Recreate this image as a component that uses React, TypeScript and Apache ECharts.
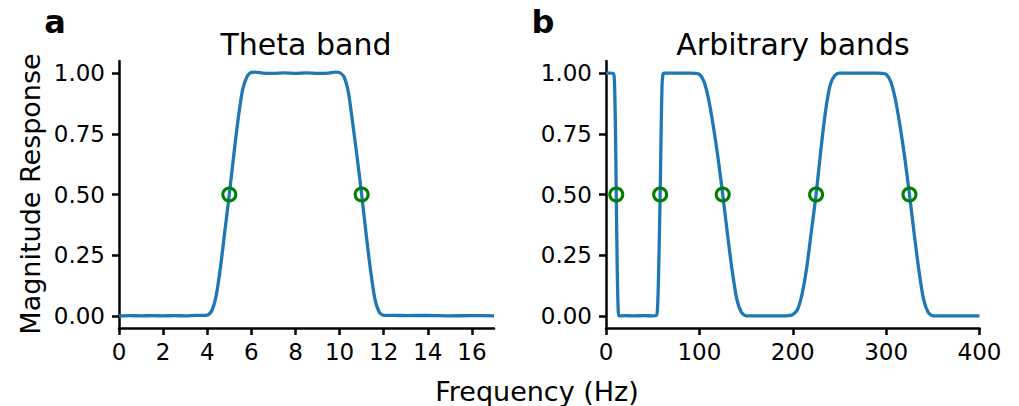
import React, { useEffect, useRef } from "react";
import * as echarts from "echarts";

// ---- data ----
const thetaResponse: [number, number][] = [
  [0, 0], [0.5, 0.001], [1, 0], [1.5, 0.001], [2, 0], [2.5, 0.001], [3, 0], [3.5, 0.002], [3.8, 0.002], [4, 0.003],
  [4.2, 0.02], [4.4, 0.08], [4.6, 0.2], [4.8, 0.35], [5, 0.5], [5.2, 0.66], [5.4, 0.81], [5.6, 0.93], [5.8, 0.985],
  [6, 1.003], [6.2, 1.004], [6.5, 1.0], [7, 0.999], [7.5, 1.001], [8, 0.999], [8.5, 1.001], [9, 0.999], [9.5, 1.0],
  [9.8, 1.004], [10, 1.002], [10.2, 0.985], [10.4, 0.92], [10.6, 0.79], [10.8, 0.65], [11, 0.5], [11.2, 0.34],
  [11.4, 0.19], [11.6, 0.07], [11.8, 0.015], [12, 0.002], [12.5, 0.002], [13, 0.001], [14, 0.002], [15, 0], [16, 0.001], [17, 0],
];
const thetaHalfPower: [number, number][] = [[5, 0.5], [11, 0.5]];

const arbitraryResponse: [number, number][] = [
  [0, 1], [4, 1], [8, 0.998], [9, 0.97], [10, 0.8], [11, 0.5], [12, 0.2], [13, 0.03], [14, 0],
  [20, 0.001], [30, 0], [40, 0.001], [50, 0], [54, 0.002], [55, 0.02], [56, 0.12], [57, 0.3], [58, 0.5],
  [59, 0.75], [60, 0.95], [61, 0.995], [62, 1], [70, 1], [80, 1], [90, 1], [95, 0.999], [100, 0.995],
  [105, 0.965], [110, 0.89], [115, 0.78], [120, 0.65], [125, 0.5], [130, 0.34], [135, 0.19], [140, 0.07],
  [145, 0.015], [150, 0], [160, 0], [170, 0], [180, 0], [190, 0], [195, 0.001], [200, 0.005], [205, 0.025],
  [210, 0.09], [215, 0.2], [220, 0.35], [225, 0.5], [230, 0.68], [235, 0.84], [240, 0.95], [245, 0.99],
  [250, 1], [260, 1], [270, 1], [280, 1], [290, 1], [295, 0.999], [300, 0.995], [305, 0.965], [310, 0.89],
  [315, 0.78], [320, 0.65], [325, 0.5], [330, 0.34], [335, 0.19], [340, 0.07], [345, 0.015], [350, 0],
  [360, 0], [380, 0], [400, 0],
];
const arbitraryHalfPower: [number, number][] = [[11, 0.5], [58, 0.5], [125, 0.5], [225, 0.5], [325, 0.5]];

const yTicks = [0, 0.25, 0.5, 0.75, 1.0];
const thetaXTicks = [0, 2, 4, 6, 8, 10, 12, 14, 16];
const arbitraryXTicks = [0, 100, 200, 300, 400];

const panelTitles = ["Theta band", "Arbitrary bands"];
const panelLetters = ["a", "b"];
const xAxisName = "Frequency (Hz)";
const yAxisName = "Magnitude Response";

const FONT = "DejaVu Sans";
const LINE_COLOR = "#1f77b4";
const MARKER_COLOR = "#008000";

export default function App() {
  const ref = useRef<HTMLDivElement>(null);

  useEffect(() => {
    if (!ref.current) return;
    const chart = echarts.init(ref.current, undefined, { renderer: "svg" });

    const axisLine = { show: true, onZero: false, lineStyle: { color: "#000", width: 2.5 } };
    const axisTickBase = { show: true, inside: false, length: 7, lineStyle: { color: "#000", width: 2.5 } };
    const labelBase = { color: "#000", fontSize: 23, fontFamily: FONT };

    const yAxisCommon = (gridIndex: number) => ({
      type: "value",
      gridIndex,
      min: -0.05,
      max: 1.05,
      axisLine,
      axisTick: { ...axisTickBase, customValues: yTicks },
      axisLabel: { ...labelBase, margin: 14, customValues: yTicks, formatter: (v: number) => v.toFixed(2) },
      splitLine: { show: false },
    });

    const grids = [
      { left: 119, top: 61, width: 375, height: 267 },
      { left: 606, top: 61, width: 373.5, height: 267 },
    ];

    const markerStyle = { color: "rgba(0,0,0,0)", borderColor: MARKER_COLOR, borderWidth: 3, opacity: 1 };

    chart.setOption({
      animation: false,
      grid: grids.map((g) => ({ ...g, containLabel: false, outerBoundsMode: "none" })),
      xAxis: [
        {
          type: "value",
          gridIndex: 0,
          min: 0,
          max: 17,
          axisLine,
          axisTick: { ...axisTickBase, customValues: thetaXTicks },
          axisLabel: { ...labelBase, margin: 12, customValues: thetaXTicks },
          splitLine: { show: false },
        },
        {
          type: "value",
          gridIndex: 1,
          min: 0,
          max: 400,
          interval: 100,
          axisLine,
          axisTick: { ...axisTickBase, customValues: arbitraryXTicks },
          axisLabel: { ...labelBase, margin: 12, customValues: arbitraryXTicks },
          splitLine: { show: false },
        },
      ],
      yAxis: [yAxisCommon(0), yAxisCommon(1)],
      series: [
        {
          type: "line",
          xAxisIndex: 0,
          yAxisIndex: 0,
          data: thetaResponse,
          symbol: "none",
          smooth: 0.25,
          lineStyle: { color: LINE_COLOR, width: 3.3 },
        },
        {
          type: "scatter",
          xAxisIndex: 0,
          yAxisIndex: 0,
          data: thetaHalfPower,
          symbol: "circle",
          symbolSize: 13,
          itemStyle: markerStyle,
          z: 5,
        },
        {
          type: "line",
          xAxisIndex: 1,
          yAxisIndex: 1,
          data: arbitraryResponse,
          symbol: "none",
          smooth: 0.25,
          lineStyle: { color: LINE_COLOR, width: 3.3 },
        },
        {
          type: "scatter",
          xAxisIndex: 1,
          yAxisIndex: 1,
          data: arbitraryHalfPower,
          symbol: "circle",
          symbolSize: 13,
          itemStyle: markerStyle,
          z: 5,
        },
      ],
      graphic: [
        {
          type: "text",
          x: 306,
          y: 44,
          style: { text: panelTitles[0], font: `30px '${FONT}'`, fill: "#000", textAlign: "center", textVerticalAlign: "middle" },
        },
        {
          type: "text",
          x: 793,
          y: 44,
          style: { text: panelTitles[1], font: `30px '${FONT}'`, fill: "#000", textAlign: "center", textVerticalAlign: "middle" },
        },
        {
          type: "text",
          x: 55,
          y: 22,
          style: { text: panelLetters[0], font: `bold 32px '${FONT}'`, fill: "#000", textAlign: "center", textVerticalAlign: "middle" },
        },
        {
          type: "text",
          x: 543,
          y: 22,
          style: { text: panelLetters[1], font: `bold 32px '${FONT}'`, fill: "#000", textAlign: "center", textVerticalAlign: "middle" },
        },
        {
          type: "text",
          x: 537,
          y: 391,
          style: { text: xAxisName, font: `27px '${FONT}'`, fill: "#000", textAlign: "center", textVerticalAlign: "middle" },
        },
        {
          type: "text",
          x: 30,
          y: 194,
          rotation: Math.PI / 2,
          style: { text: yAxisName, font: `27px '${FONT}'`, fill: "#000", textAlign: "center", textVerticalAlign: "middle" },
        },
      ],
    });

    return () => chart.dispose();
  }, []);

  return (
    <div
      ref={ref}
      style={{ position: "fixed", left: 0, top: 0, width: 1019, height: 406, background: "#fff" }}
    />
  );
}
